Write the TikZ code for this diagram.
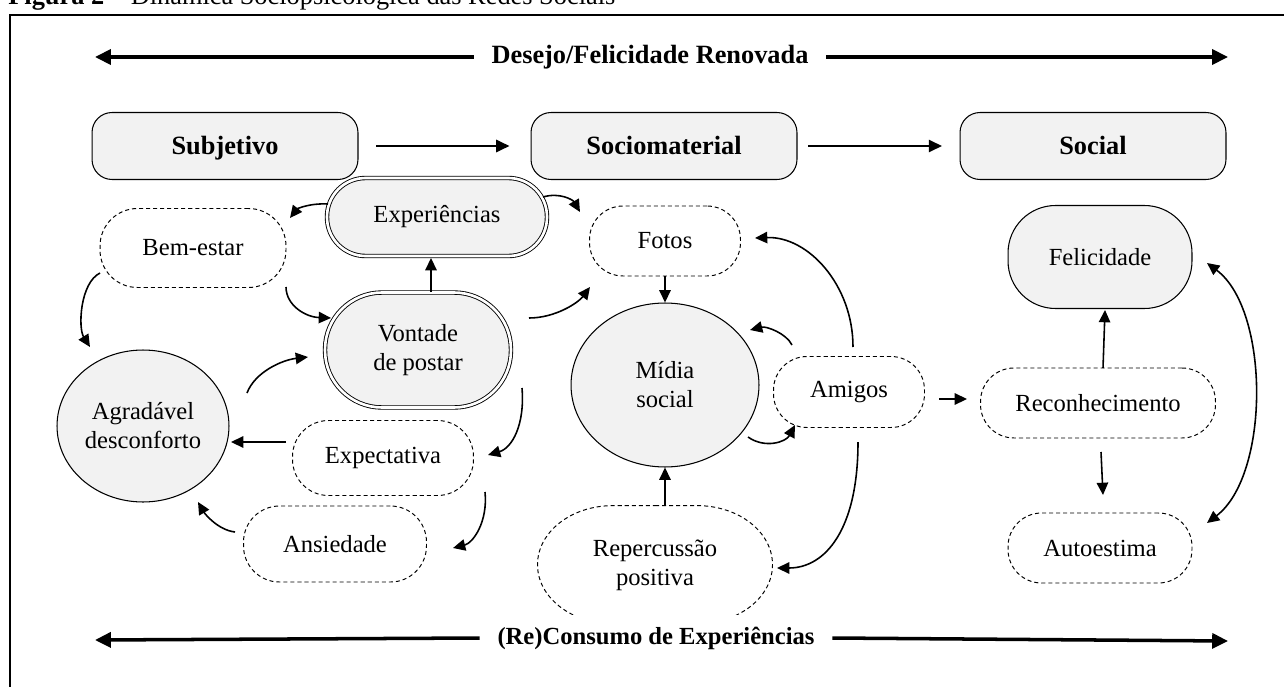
\documentclass[tikz,border=0pt]{standalone}
\usepackage{fontspec}
\setmainfont{Liberation Serif}
\usetikzlibrary{arrows.meta,calc,shapes.geometric}
\definecolor{nfill}{RGB}{242,242,242}
\begin{document}
\begin{tikzpicture}[x=0.02cm,y=-0.02cm,
  nfont/.style={font=\fontsize{14}{16.5}\selectfont},
  hdr/.style={draw, fill=nfill, rounded corners=0.4cm, minimum width=5.32cm, minimum height=1.34cm, inner sep=0pt, text height=10.5pt, text depth=0.5pt, line width=0.6pt, font=\bfseries\fontsize{15}{18}\selectfont},
  dbl/.style={draw, double, double distance=1.5pt, line width=0.5pt, fill=nfill, inner sep=0pt, align=center, nfont},
  dshline/.style={dash pattern=on 2.3pt off 1.7pt, line width=0.55pt},
  dsh/.style={draw, dshline, inner sep=0pt, align=center, nfont},
  sol/.style={draw, fill=nfill, line width=0.6pt, inner sep=0pt, align=center, nfont},
  arr/.style={line width=0.9pt, -{Triangle[length=7pt,width=6.5pt]}},
  darr/.style={line width=0.9pt, {Triangle[length=7pt,width=6.5pt]}-{Triangle[length=7pt,width=6.5pt]}},
  harr/.style={line width=1.1pt, -{Triangle[length=7.5pt,width=7pt]}},
  bigarr/.style={line width=2pt, -{Triangle[length=9pt,width=8.5pt]}},
  bigtext/.style={font=\bfseries\fontsize{15}{18}\selectfont, inner sep=0pt}]
\useasboundingbox (0,0) rectangle (1284,686);
\clip (0,0) rectangle (1284,686);
% frame and title (cut at the top, as in the source)
\draw[line width=1.2pt] (10,700) -- (10,15) -- (1300,15);
\node[anchor=base west, inner sep=0pt, font=\fontsize{15}{18}\selectfont] (title) at (8,5) {\textbf{Figura 2 – }Dinâmica Sociopsicológica das Redes Sociais};
% top and bottom labels
\node[bigtext] (topt) at (650,57) {Desejo/Felicidade Renovada};
\coordinate (tl) at (95,57);
\coordinate (tr) at (1228,57);
\draw[bigarr] ([xshift=-10pt]topt.west) -- (tl);
\draw[bigarr] ([xshift=10pt]topt.east) -- (tr);
\node[font=\bfseries\fontsize{14}{17}\selectfont, inner sep=0pt] (bott) at (656,638) {(Re)Consumo de Experiências};
\coordinate (bl) at (95,640);
\coordinate (br) at (1228,641);
\draw[bigarr] ([xshift=-10pt]bott.west) -- (bl);
\draw[bigarr] ([xshift=10pt]bott.east) -- (br);
% headers
\node[hdr] (subj) at (225,146) {Subjetivo};
\node[hdr] (socio) at (664,146) {Sociomaterial};
\node[hdr] (social) at (1093,146) {Social};
\draw[harr] ([xshift=10pt]subj.east) -- ([xshift=-12pt]socio.west);
\draw[harr] ([xshift=6pt]socio.east) -- ([xshift=-10pt]social.west);
% subjective column
\node[dbl, minimum width=4.4cm, minimum height=1.56cm, rounded corners=0.77cm] (exper) at (437,217) {Experiências};
\node[dsh, minimum width=3.72cm, minimum height=1.58cm, rounded corners=0.75cm] (bem) at (193,248) {Bem-estar};
\node[dbl, minimum width=3.72cm, minimum height=2.3cm, rounded corners=1.14cm] (vont) at (418,350) {Vontade\\de postar};
\node[sol, ellipse, minimum width=3.44cm, minimum height=3.04cm] (agrad) at (143,426) {Agradável\\desconforto};
\node[dsh, minimum width=3.62cm, minimum height=1.5cm, rounded corners=0.72cm] (expect) at (383,458) {Expectativa};
\node[dsh, minimum width=3.66cm, minimum height=1.52cm, rounded corners=0.72cm] (ansied) at (335,544) {Ansiedade};
% sociomaterial column
\node[dsh, minimum width=3.02cm, minimum height=1.4cm, rounded corners=0.67cm] (fotos) at (665,241) {Fotos};
\node[sol, ellipse, minimum width=3.76cm, minimum height=3.28cm] (midia) at (665,385) {Mídia\\social};
\node[dsh, minimum width=3.02cm, minimum height=1.42cm, rounded corners=0.67cm] (amigos) at (849,392) {Amigos};
\node[inner sep=0pt, minimum width=4.7cm, minimum height=2.36cm, align=center, nfont] (reperc) at (655,565) {Repercussão\\positiva};
\begin{scope}
\clip (0,0) rectangle (1284,614);
\draw[dshline] (reperc.north) -- ++(42.5,0)
  arc[start angle=-90, end angle=0, x radius=75, y radius=59]
  arc[start angle=0, end angle=90, x radius=75, y radius=59]
  -- ++(-85,0)
  arc[start angle=90, end angle=180, x radius=75, y radius=59]
  arc[start angle=180, end angle=270, x radius=75, y radius=59]
  -- cycle;
\end{scope}
% social column
\node[sol, minimum width=3.68cm, minimum height=2.06cm, rounded corners=0.95cm] (felic) at (1100,257) {Felicidade};
\node[dsh, minimum width=4.7cm, minimum height=1.4cm, rounded corners=0.67cm] (recon) at (1098,403) {Reconhecimento};
\node[dsh, minimum width=3.68cm, minimum height=1.4cm, rounded corners=0.67cm] (auto) at (1100,548) {Autoestima};
% connectors
\draw[arr] ($(exper)+(-109,-13)$) .. controls +(-19,-1) and +(7,-9) .. ($(bem)+(97,-30)$);
\draw[arr] ($(exper)+(106,-20)$) .. controls +(17,-5) and +(-7,-12) .. ($(fotos)+(-85,-29)$);
\draw[arr] ($(vont)+(13,-58)$) -- ($(exper)+(-6,41)$);
\draw[arr] ($(bem)+(93,39)$) .. controls +(0,18) and +(-26,-1) .. ($(vont)+(-87,-32)$);
\draw[arr] ($(bem)+(-93,25)$) .. controls +(-20,10) and +(-12,-19) .. ($(agrad)+(-53,-79)$);
\draw[arr] ($(vont)+(111,-32)$) .. controls +(26,0) and +(-12,16) .. ($(fotos)+(-75,46)$);
\draw[arr] ($(agrad)+(104,-33)$) .. controls +(8,-21) and +(-26,3) .. ($(vont)+(-110,7)$);
\draw[arr] ($(expect)+(-97,-16)$) -- ($(agrad)+(88,16)$);
\draw[arr] ($(vont)+(104,38)$) .. controls +(3,37) and +(24,-7) .. ($(expect)+(105,-3)$);
\draw[arr] ($(expect)+(102,34)$) .. controls +(3,30) and +(20,-5) .. ($(ansied)+(118,4)$);
\draw[arr] ($(ansied)+(-100,-12)$) .. controls +(-17,-2) and +(7,12) .. ($(agrad)+(55,76)$);
\draw[arr] (fotos.south) -- (midia.north);
\draw[arr] ($(amigos)+(4,-45)$) .. controls +(0,-62) and +(53,-2) .. ($(fotos)+(90,-3)$);
\draw[arr] ($(amigos)+(-57,-47)$) .. controls +(-6,-12) and +(16,-4) .. ($(midia)+(85,-55)$);
\draw[arr] ($(midia)+(83,52)$) .. controls +(17,12) and +(-9,17) .. ($(amigos)+(-54,33)$);
\draw[arr] ($(amigos)+(90,7)$) -- ($(recon)+(-131,-4)$);
\draw[arr] ($(amigos)+(9,50)$) .. controls +(0,88) and +(48,0) .. ($(reperc)+(122,3)$);
\draw[arr] ($(reperc)+(10,-59)$) -- (midia.south);
\draw[arr] ($(recon)+(5,-35)$) -- ($(felic)+(5,53)$);
\draw[arr] ($(recon)+(3,49)$) -- ($(auto)+(3,-53)$);
\draw[darr] ($(felic)+(107,6)$) .. controls +(63,47) and +(63,-48) .. ($(auto)+(107,-25)$);
\end{tikzpicture}
\end{document}
